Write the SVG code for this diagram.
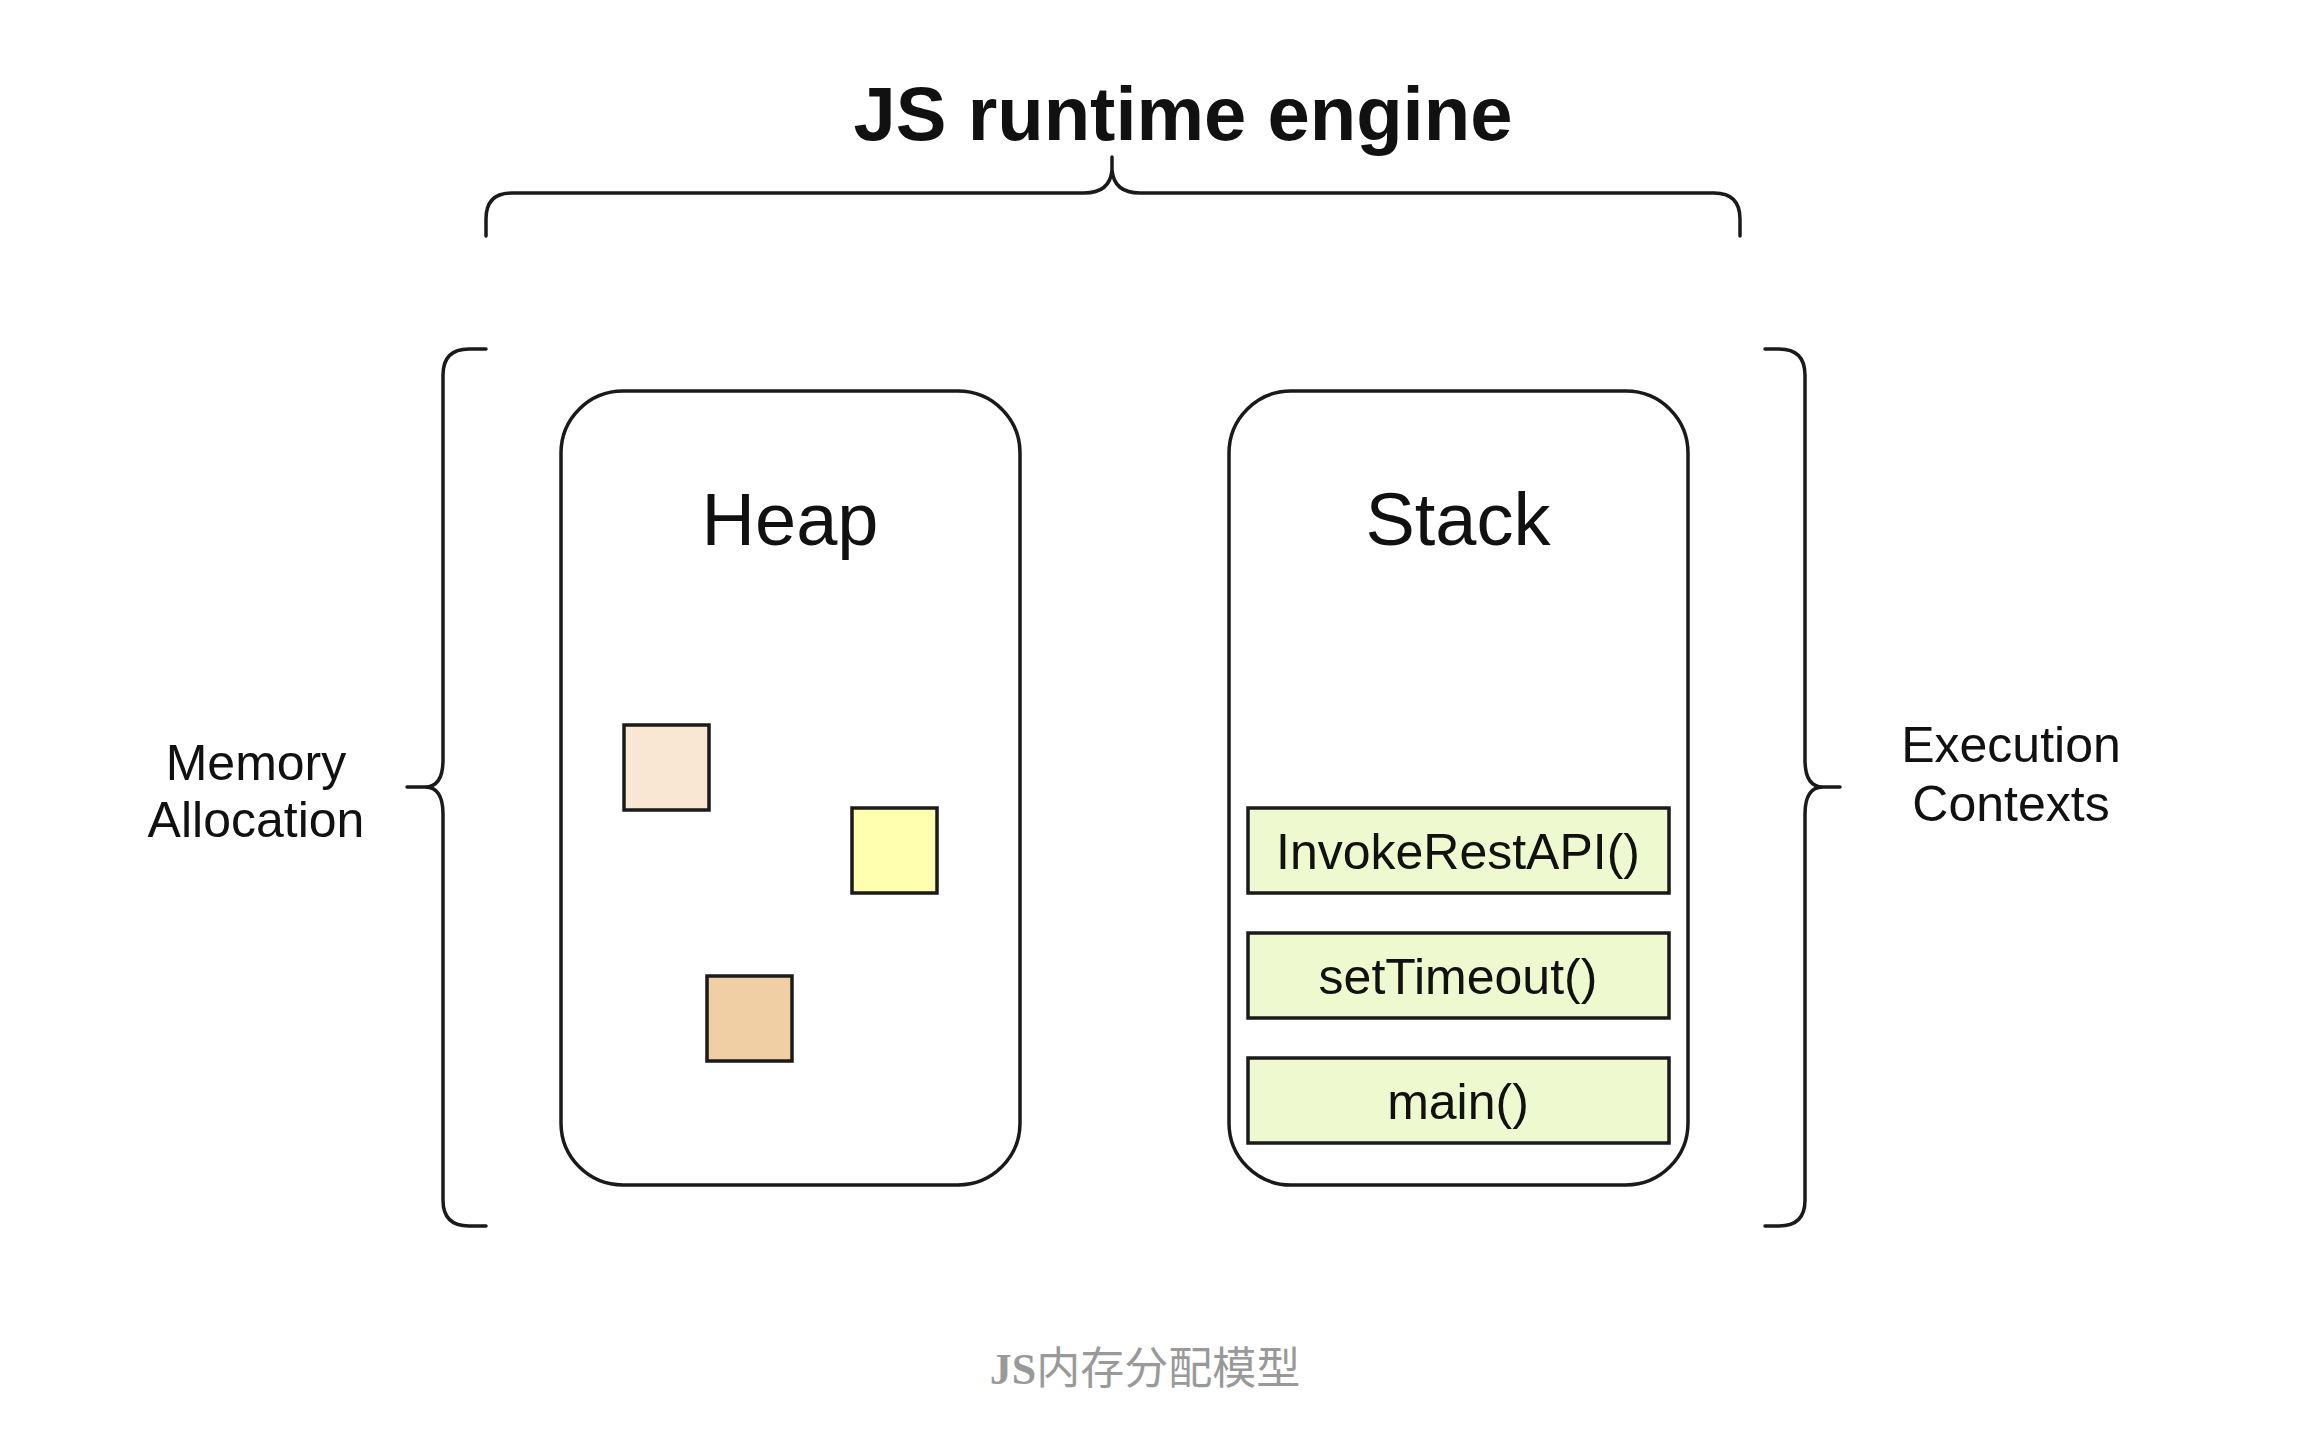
<svg xmlns="http://www.w3.org/2000/svg" width="2308" height="1436" viewBox="0 0 2308 1436">
<style>
.ln{fill:none;stroke:#1a1a1a;stroke-width:3.5;stroke-linecap:round;stroke-linejoin:round}
.box{fill:#ffffff;stroke:#1a1a1a;stroke-width:3.5}
.sq{stroke:#1a1a1a;stroke-width:3.5}
.fr{fill:#EEF9D0;stroke:#1a1a1a;stroke-width:3.5}
.t{font-family:"Liberation Sans",Arial,Helvetica,sans-serif;fill:#111;text-anchor:middle}
</style>
<rect width="2308" height="1436" fill="#ffffff"/>
<g id="title"><text class="t" x="1183" y="140" font-size="76" font-weight="bold">JS runtime engine</text></g>
<g id="braces">
<path class="ln" d="M486,236 V219 Q486,193 512,193 H1084 Q1110,193 1112,170 V157 M1112,170 Q1114,193 1140,193 H1714 Q1740,193 1740,219 V236"/>
<path class="ln" d="M486,349 H469 Q443,349 443,375 V760 Q443,787 425,787 H407 M425,787 Q443,787 443,814 V1200 Q443,1226 469,1226 H486"/>
<path class="ln" d="M1765,349 H1779 Q1805,349 1805,375 V760 Q1805,787 1823,787 H1840 M1823,787 Q1805,787 1805,814 V1200 Q1805,1226 1779,1226 H1765"/>
</g>
<g id="heap">
<rect class="box" x="561" y="391" width="459" height="794" rx="62" ry="62"/>
<text class="t" x="790" y="545" font-size="74">Heap</text>
</g>
<g id="heap-obj-1"><rect class="sq" x="624" y="725" width="85" height="85" fill="#FAE7D3"/></g>
<g id="heap-obj-2"><rect class="sq" x="852" y="808" width="85" height="85" fill="#FFFFAF"/></g>
<g id="heap-obj-3"><rect class="sq" x="707" y="976" width="85" height="85" fill="#F1CFA5"/></g>
<g id="stack">
<rect class="box" x="1229" y="391" width="459" height="794" rx="62" ry="62"/>
<text class="t" x="1458" y="545" font-size="74">Stack</text>
</g>
<g id="frame-invoke"><rect class="fr" x="1248" y="808" width="421" height="85"/><text class="t" x="1458" y="869" font-size="50">InvokeRestAPI()</text></g>
<g id="frame-settimeout"><rect class="fr" x="1248" y="933" width="421" height="85"/><text class="t" x="1458" y="994" font-size="50">setTimeout()</text></g>
<g id="frame-main"><rect class="fr" x="1248" y="1058" width="421" height="85"/><text class="t" x="1458" y="1119" font-size="50">main()</text></g>
<g id="label-memory"><text class="t" x="256" y="780" font-size="50">Memory</text><text class="t" x="256" y="837" font-size="50">Allocation</text></g>
<g id="label-execution"><text class="t" x="2011" y="762" font-size="50">Execution</text><text class="t" x="2011" y="821" font-size="50">Contexts</text></g>
<g id="caption"><text x="1145" y="1384" font-size="44" fill="#999999" text-anchor="middle" font-family="'Liberation Serif','Noto Sans CJK SC',serif"><tspan font-weight="bold">JS</tspan>内存分配模型</text></g>
</svg>
